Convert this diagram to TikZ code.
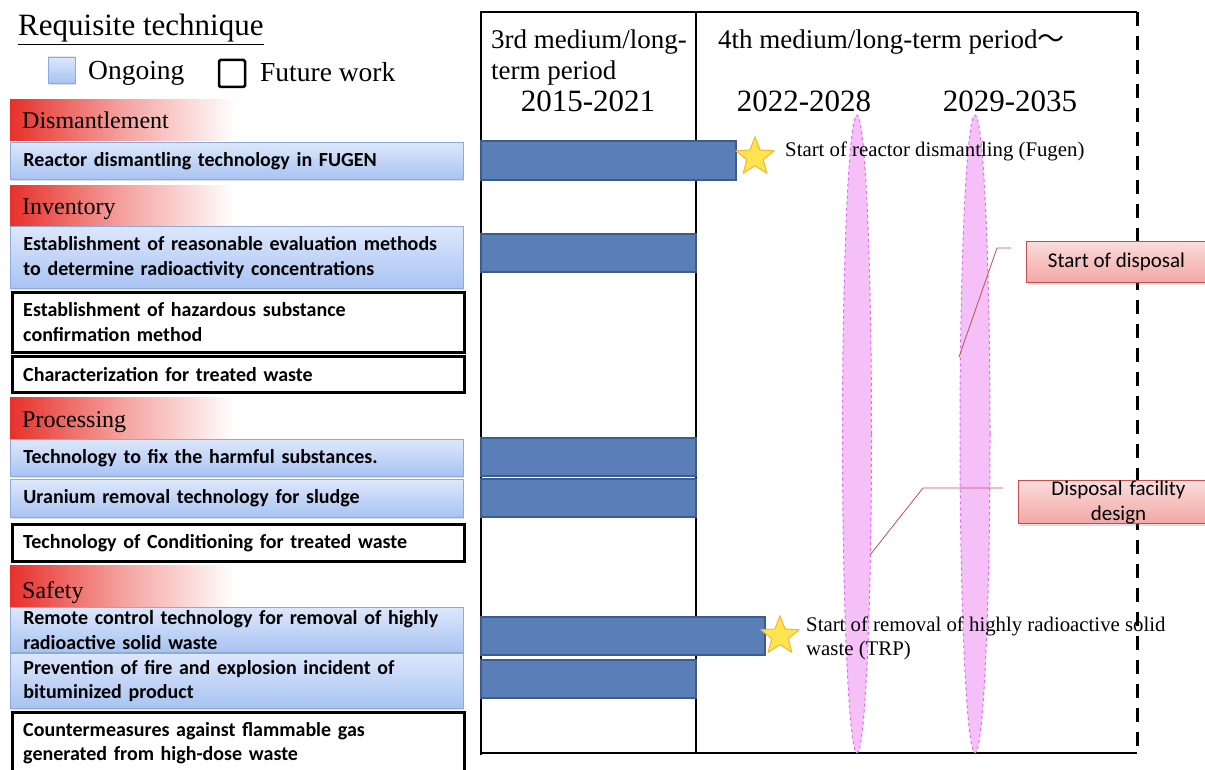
\documentclass[tikz,border=0pt]{standalone}
\usepackage{fontspec}
\setmainfont{Liberation Serif}
\newfontfamily\calfont{Carlito}
\newfontfamily\cjkfont{Noto Sans CJK JP}
\usetikzlibrary{shapes.geometric,shadows}
\definecolor{itemtop}{HTML}{DDE7FB}
\definecolor{itembot}{HTML}{A8C3F2}
\definecolor{itemborder}{HTML}{8EAADB}
\definecolor{barfill}{HTML}{5A7EB7}
\definecolor{barborder}{HTML}{3E5C8A}
\definecolor{pinkfill}{HTML}{F5C0F8}
\definecolor{pinkdraw}{HTML}{E06CF0}
\definecolor{hdrred}{HTML}{E8302A}
\definecolor{calltop}{HTML}{FADCDB}
\definecolor{callbot}{HTML}{F2A7A5}
\definecolor{callborder}{HTML}{C0504D}
\definecolor{starfill}{HTML}{FFE44D}
\definecolor{stardraw}{HTML}{F2B632}
\tikzset{
  itemfont/.style={font=\calfont\bfseries\fontsize{20}{24.5}\selectfont},
  blueitem/.style={itemfont, draw=itemborder, line width=0.8pt, top color=itemtop, bottom color=itembot,
    drop shadow={opacity=0.25, shadow xshift=1pt, shadow yshift=-2pt},
    anchor=north west, minimum width=453pt, text width=427pt, inner xsep=13pt, inner ysep=1pt, align=left},
  whiteitem/.style={itemfont, draw=black, line width=2.5pt, fill=white,
    anchor=north west, minimum width=452pt, text width=430pt, inner xsep=11pt, inner ysep=1pt, align=left},
  hdrtext/.style={font=\fontsize{24}{28}\selectfont, anchor=base west, inner sep=0pt},
  bar/.style={draw=barborder, line width=1.5pt, fill=barfill},
  framel/.style={line width=2.5pt, black},
  yeartext/.style={font=\fontsize{31}{34}\selectfont, anchor=base, inner sep=0pt},
  pertext/.style={font=\fontsize{27}{30}\selectfont, anchor=base west, inner sep=0pt},
  startext/.style={font=\fontsize{20.8}{24}\selectfont, anchor=base west, inner sep=0pt, align=left},
  starshape/.style={star, star points=5, star point ratio=2.3, minimum size=40pt, inner sep=0pt, fill=starfill, draw=stardraw, line width=1pt},
  pinkell/.style={fill=pinkfill, draw=pinkdraw, dashed, line width=1pt},
  callout/.style={font=\calfont\fontsize{21}{25}\selectfont, draw=callborder, line width=1pt, top color=calltop, bottom color=callbot,
    drop shadow={opacity=0.25, shadow xshift=1pt, shadow yshift=-2pt}, anchor=north west, align=center, inner sep=0pt},
  leader/.style={draw=callborder, line width=0.8pt},
}
\begin{document}
\begin{tikzpicture}[x=1pt,y=-1pt]
\clip (0,0) rectangle (1205,770);
\fill[white] (0,0) rectangle (1205,770);

% title and legend
\node[font=\fontsize{31}{34}\selectfont, anchor=base west, inner sep=0pt] (title) at (18,36) {\underline{Requisite technique}};
\path[draw=itemborder, line width=0.8pt, top color=itemtop, bottom color=itembot, drop shadow={opacity=0.25, shadow xshift=1pt, shadow yshift=-2pt}] (48,57) rectangle (75,83);
\node[font=\fontsize{27.5}{30}\selectfont, anchor=base west, inner sep=0pt] (ongoing) at (88,80) {Ongoing};
\draw[line width=2.5pt, rounded corners=1.5pt] (219,60) rectangle (245,87);
\node[font=\fontsize{27.5}{30}\selectfont, anchor=base west, inner sep=0pt] (future) at (260,82) {Future work};

% red headers
\foreach \ya/\yb in {100/141, 186/227, 397/438, 565/607}{
  \shade[left color=hdrred, right color=white, middle color=hdrred!45!white] (10,\ya) rectangle (235,\yb);
}
\node[hdrtext] (h1) at (22,129) {Dismantlement};
\node[hdrtext] (h2) at (22,215) {Inventory};
\node[hdrtext] (h3) at (22,427) {Processing};
\node[hdrtext] (h4) at (22,598) {Safety};

% items
\node[blueitem, minimum height=37pt] (i1) at (10,142) {Reactor dismantling technology in FUGEN};
\node[blueitem, minimum height=62pt] (i2) at (10,226) {Establishment of reasonable evaluation methods\\to determine radioactivity concentrations};
\node[whiteitem, minimum height=60pt] (i3) at (11,291) {Establishment of hazardous substance\\confirmation method};
\node[whiteitem, minimum height=36pt] (i4) at (11,355) {Characterization for treated waste};
\node[blueitem, minimum height=37pt] (i5) at (10,439) {Technology to fix the harmful substances.};
\node[blueitem, minimum height=38pt] (i6) at (10,479) {Uranium removal technology for sludge};
\node[whiteitem, minimum height=37pt] (i7) at (11,523) {Technology of Conditioning for treated waste};
\node[blueitem, minimum height=45pt] (i8) at (10,607) {Remote control technology for removal of highly\\radioactive solid waste};
\node[blueitem, minimum height=55pt] (i9) at (10,653) {Prevention of fire and explosion incident of\\bituminized product};
\node[whiteitem, minimum height=62pt] (i10) at (11,711) {Countermeasures against flammable gas\\generated from high-dose waste};

% table frame
\draw[framel] (481,755) -- (481,12) -- (1137,12);
\draw[framel] (481,753) -- (1137,753);
\draw[framel] (696,12) -- (696,753);
\draw[line width=3pt, dash pattern=on 14pt off 10pt] (1137,12) -- (1137,753);

% period headings
\node[pertext] (p3a) at (491,49) {3rd medium/long-};
\node[pertext] (p3b) at (491,80) {term period};
\node[yeartext] (y1) at (588,112) {2015-2021};
\node[pertext] (p4) at (718,49) {4th medium/long-term period{\cjkfont ～}};
\node[yeartext] (y2) at (804,112) {2022-2028};
\node[yeartext] (y3) at (1010,112) {2029-2035};

% pink ellipses
\draw[pinkell] (857,434) ellipse [x radius=14.5pt, y radius=319pt];
\draw[pinkell] (975,434) ellipse [x radius=15pt, y radius=319pt];

% bars
\draw[bar] (481,141) rectangle (736,180);
\draw[bar] (481,234) rectangle (696,272);
\draw[bar] (481,438) rectangle (696,476);
\draw[bar] (481,479) rectangle (696,517);
\draw[bar] (481,617) rectangle (765,655);
\draw[bar] (481,660) rectangle (696,698);

% stars
\node[starshape] (s1) at (755,157) {};
\node[starshape] (s2) at (780,636) {};
\node[startext] (t1) at (785,157) {Start of reactor dismantling (Fugen)};
\node[startext] (t2) at (806,631) {Start of removal of highly radioactive solid};
\node[startext] (t3) at (806,655) {waste (TRP)};

% callouts
\node[callout, minimum width=190pt, minimum height=41pt] (c1) at (1026,241) {Start of disposal\hspace*{10pt}};
\node[callout, minimum width=200pt, minimum height=42pt, text width=160pt] (c2) at (1018,480) {Disposal facility\\design};
\coordinate (c1a) at (1011,248);
\coordinate (c1b) at (997,248);
\coordinate (c1c) at (959,357);
\draw[leader] (c1a) -- (c1b) -- (c1c);
\coordinate (c2a) at (1003,488);
\coordinate (c2b) at (923,488);
\coordinate (c2c) at (870,555);
\draw[leader] (c2a) -- (c2b) -- (c2c);
\end{tikzpicture}
\end{document}
